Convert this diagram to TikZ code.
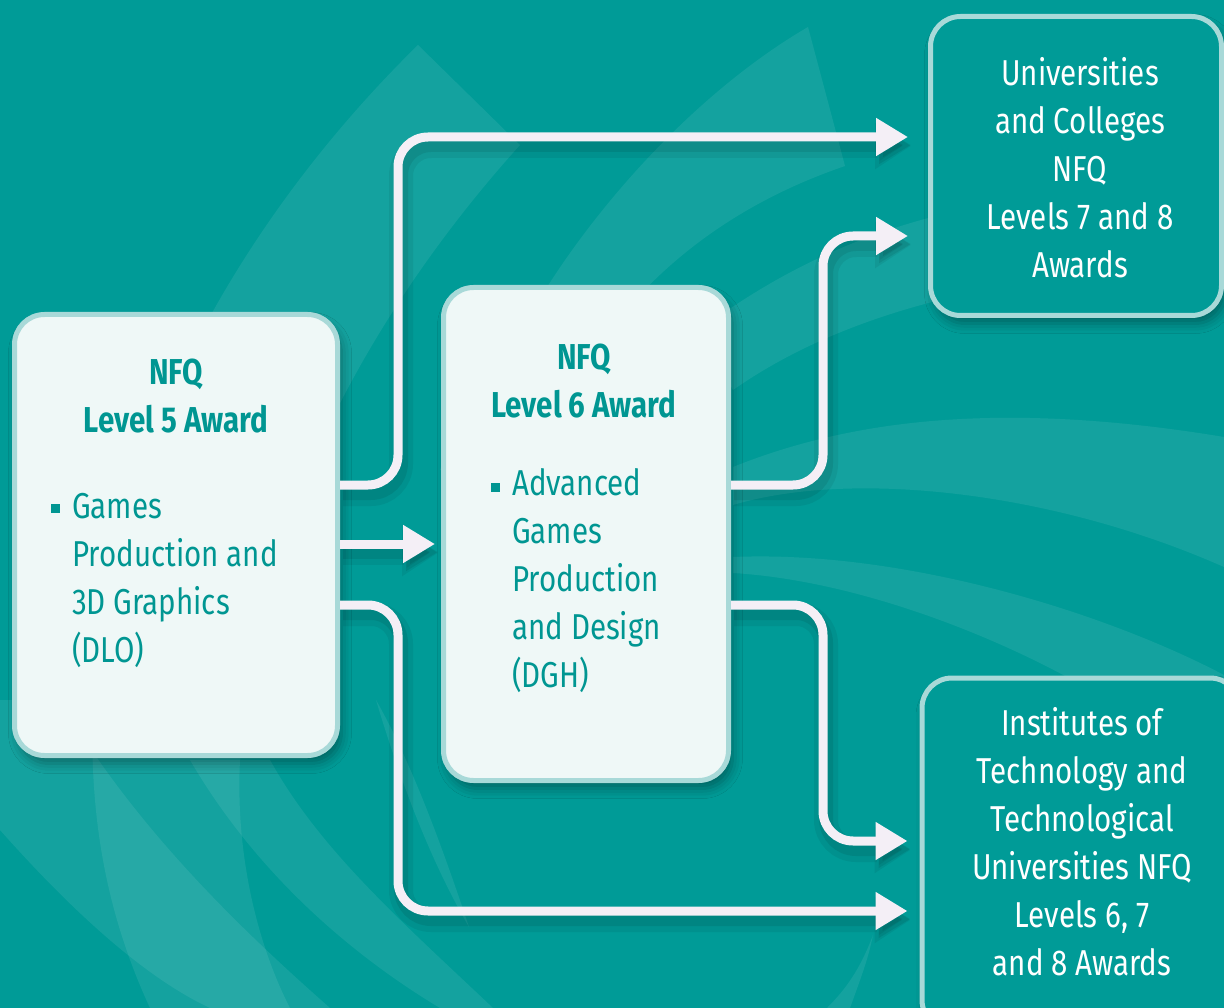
\documentclass[tikz,border=0pt]{standalone}
\usepackage{fontspec}
\setmainfont{Fira Sans}[FakeStretch=0.82]
\usetikzlibrary{arrows.meta,shadows.blur}
\definecolor{bgc}{RGB}{0,155,151}
\definecolor{tealtxt}{RGB}{0,150,146}
\definecolor{lightfill}{RGB}{239,248,247}
\definecolor{boxedge}{RGB}{168,217,216}
\definecolor{arrowc}{RGB}{244,239,246}
\tikzset{
  swirl/.style={fill=white, fill opacity=0.08},
  boxshadow/.style={blur shadow={shadow xshift=4pt, shadow yshift=-8pt, shadow blur radius=10pt, shadow opacity=35}},
  lightbox/.style={draw=boxedge, line width=5pt, fill=lightfill, rounded corners=30pt, inner sep=0pt, boxshadow},
  darkbox/.style={draw=boxedge, line width=5pt, fill=bgc, rounded corners=30pt, inner sep=0pt, boxshadow},
  titletext/.style={text=tealtxt, align=center, font=\fontsize{36}{48}\selectfont\bfseries, inner sep=0pt},
  bodytext/.style={text=tealtxt, align=left, font=\fontsize{36}{48}\selectfont, inner sep=0pt},
  whitetext/.style={text=white, align=center, font=\fontsize{36}{48}\selectfont, inner sep=0pt},
  flow/.style={draw=arrowc, line width=9pt, rounded corners=30pt, -{Triangle[length=32pt,width=36pt]},
    preaction={draw=black, opacity=0.06, line width=24pt, -{Triangle[length=36pt,width=44pt]}, transform canvas={shift={(3pt,-9pt)}}},
    preaction={draw=black, opacity=0.08, line width=14pt, transform canvas={shift={(3pt,-8pt)}}}},
  bulletsq/.style={fill=tealtxt}
}
\begin{document}
\begin{tikzpicture}[x=1pt,y=-1pt]
\useasboundingbox (0,0) rectangle (1224,1008);
\clip (0,0) rectangle (1224,1008);
\fill[bgc] (0,0) rectangle (1224,1008);
% background swirls
\fill[swirl] (418,45) -- (520,145) .. controls (380,300) and (250,520) .. (240,760)
  .. controls (235,860) and (260,950) .. (290,1008) -- (150,1008)
  .. controls (100,900) and (80,780) .. (100,620) .. controls (140,400) and (260,200) .. (418,45) -- cycle;
\fill[swirl] (808,27) -- (845,166) .. controls (760,195) and (690,240) .. (635,300)
  .. controls (580,360) and (540,420) .. (520,470) -- (440,470)
  .. controls (465,400) and (495,350) .. (539,300) .. controls (600,200) and (700,90) .. (808,27) -- cycle;
\fill[swirl] (0,830) .. controls (80,920) and (150,980) .. (210,1008) -- (330,1008)
  .. controls (230,920) and (130,820) .. (60,700) -- (0,700) -- cycle;
\fill[swirl] (190,760) .. controls (260,880) and (360,960) .. (440,1008) -- (493,1008)
  .. controls (400,920) and (320,850) .. (270,760) -- cycle;
\fill[swirl] (376,700) .. controls (400,780) and (430,860) .. (469,927)
  .. controls (440,840) and (410,760) .. (376,700) -- cycle;
\fill[swirl] (733,467) .. controls (850,420) and (1000,400) .. (1224,437) -- (1224,567)
  .. controls (1050,490) and (850,470) .. (733,505) -- cycle;
\fill[swirl] (733,557) .. controls (900,550) and (1100,610) .. (1224,675) -- (1224,760) -- (1067,677)
  .. controls (980,630) and (850,580) .. (733,573) -- cycle;
\fill[swirl] (700,330) .. controls (780,270) and (860,235) .. (940,215) -- (940,300)
  .. controls (860,320) and (790,350) .. (733,390) -- cycle;
\fill[swirl] (873,935) .. controls (860,970) and (845,990) .. (827,1008) -- (850,1008)
  .. controls (860,980) and (868,960) .. (873,935) -- cycle;
% boxes
\node[lightbox, minimum width=323pt, minimum height=441pt] (l5) at (176,535) {};
\node[lightbox, minimum width=285pt, minimum height=493pt] (l6) at (586,534) {};
\node[darkbox, minimum width=291pt, minimum height=299pt] (uc) at (1076,166) {};
\node[darkbox, minimum width=318pt, minimum height=352pt] (it) at (1081,854) {};
% texts
\node[titletext] (l5t) at (176,396) {NFQ\\Level 5 Award};
\node[bodytext, anchor=west] (l5b) at (72,580) {Games\\Production and\\3D Graphics\\(DLO)};
\fill[bulletsq] (51,504) rectangle (60,513);
\node[titletext] (l6t) at (584,381) {NFQ\\Level 6 Award};
\node[bodytext, anchor=west] (l6b) at (512,581) {Advanced\\Games\\Production\\and Design\\(DGH)};
\fill[bulletsq] (491,483) rectangle (500,492);
\node[whitetext] (uct) at (1080,168) {Universities\\and Colleges\\NFQ\\Levels 7 and 8\\Awards};
\node[whitetext] (itt) at (1082,842) {Institutes of\\Technology and\\Technological\\Universities NFQ\\Levels 6, 7\\and 8 Awards};
% connectors
\draw[flow, shorten >=20pt] (l5.east |- 0,485) -| (398,137) -- (uc.west |- 0,137);
\draw[flow, shorten >=6pt] (l5.east |- 0,544) -- (l6.west |- 0,544);
\draw[flow, shorten >=12pt] (l5.east |- 0,605) -| (398,911) -- (it.west |- 0,911);
\draw[flow, shorten >=20pt] (l6.east |- 0,485) -| (823,236) -- (uc.west |- 0,236);
\draw[flow, shorten >=12pt] (l6.east |- 0,605) -| (823,841) -- (it.west |- 0,841);
\end{tikzpicture}
\end{document}
